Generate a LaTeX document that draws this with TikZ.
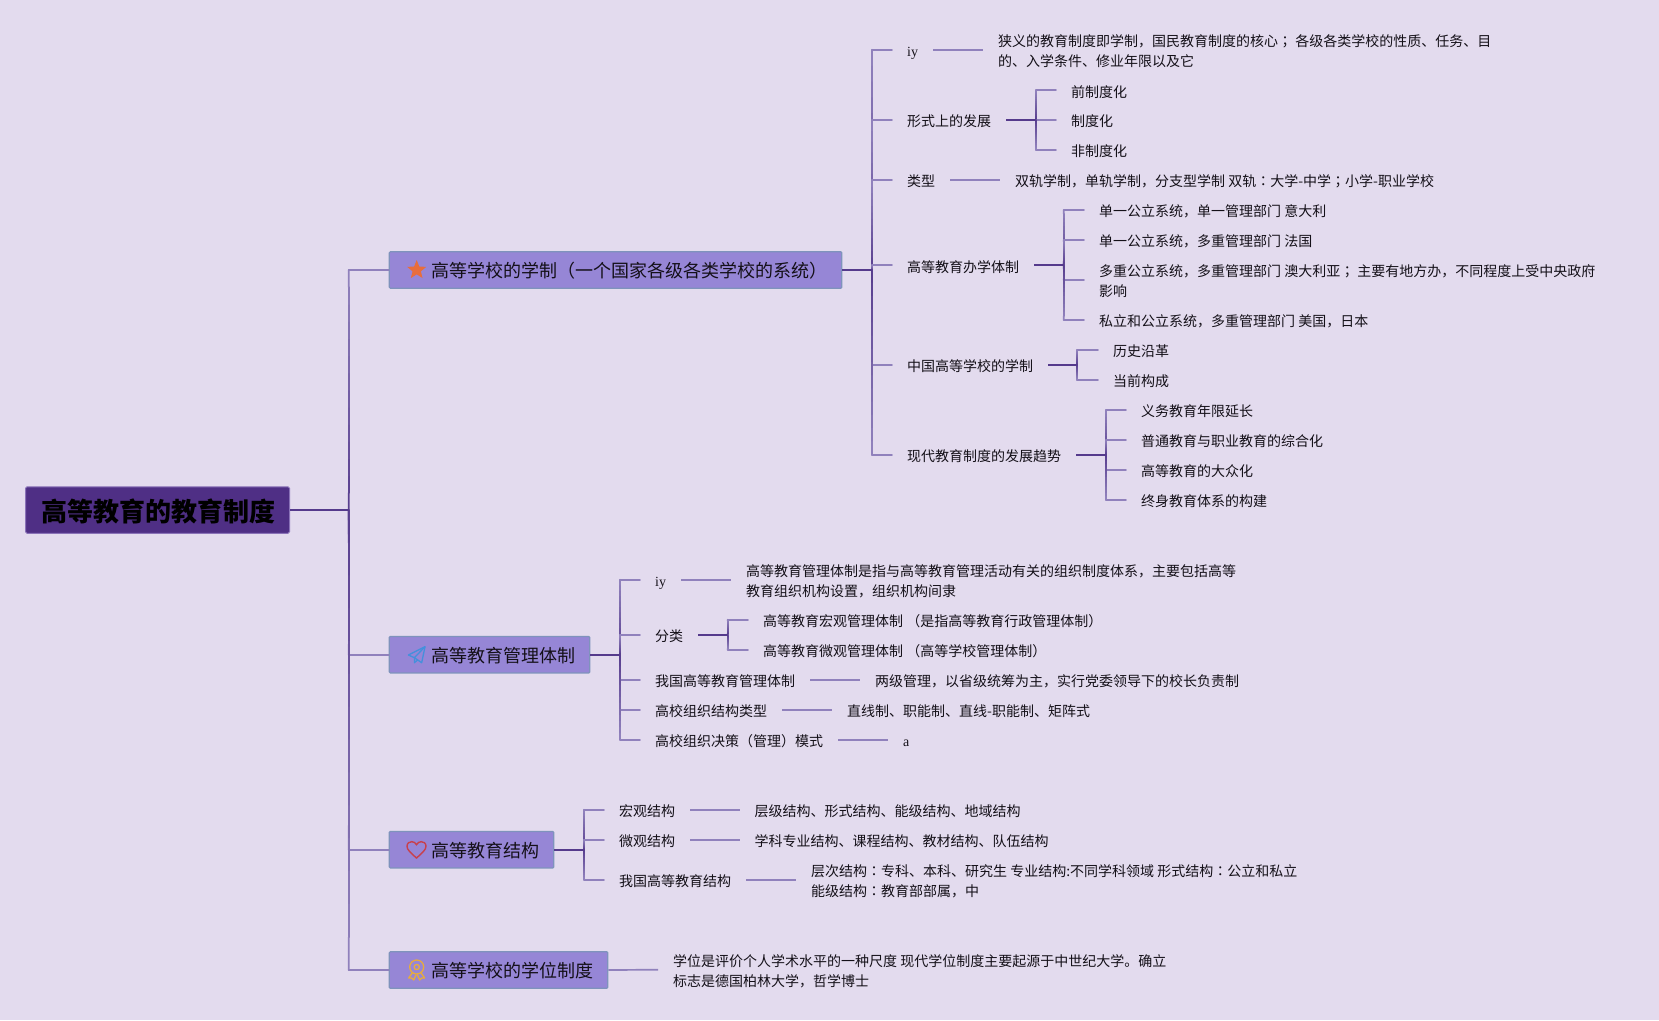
\documentclass[tikz,border=0pt]{standalone}
\usepackage{fontspec}
\setmainfont{Noto Sans CJK SC}
\newfontfamily\serifL{Liberation Serif}
\newfontfamily\tcf{Noto Sans CJK TC}
\newcommand{\semi}{{\tcf ；}}
\newcommand{\colo}{{\tcf ：}}
\usetikzlibrary{calc,shapes.geometric}
\definecolor{bgc}{HTML}{E3DBEE}
\definecolor{rootfill}{HTML}{4F2F85}
\definecolor{rootedge}{HTML}{8A72B8}
\definecolor{boxfill}{HTML}{9686D6}
\definecolor{boxedge}{HTML}{7F93BC}
\definecolor{stemc}{HTML}{553A8C}
\definecolor{litec}{HTML}{9081BC}
\definecolor{txt}{HTML}{141018}
\definecolor{staric}{HTML}{E86D3C}
\definecolor{planeic}{HTML}{4490DC}
\definecolor{heartic}{HTML}{C8404C}
\definecolor{medalic}{HTML}{E8AC3C}
\tikzset{
  rootbox/.style={draw=rootedge,fill=rootfill,line width=1,rounded corners=1.5,anchor=west,inner xsep=0,inner ysep=0,minimum height=46.5,text height=24,text depth=0.2,font=\fontsize{26}{30}\selectfont\bfseries,text=black},
  topicbox/.style={draw=boxedge,fill=boxfill,line width=1.2,rounded corners=1,anchor=west,inner xsep=0,inner ysep=0,minimum height=36.4,text height=16,text depth=0.4,font=\fontsize{18}{22}\selectfont,text=txt},
  item/.style={anchor=west,inner xsep=15,inner ysep=0,text height=14.5,text depth=0.5,font=\fontsize{14}{20}\selectfont,text=txt},
  para/.style={anchor=west,inner xsep=15,inner ysep=0,font=\fontsize{14}{20}\selectfont,text=txt},
  stem/.style={draw=stemc,line width=2.2},
  leafline/.style={draw=litec,line width=1.7},
  branchline/.style={line width=1.7,line cap=round},
}
\newcommand{\elbow}[2]{%
  \path coordinate (cor) at (#1 |- #2.west);
  \foreach \i in {1,...,14}{%
    \pgfmathsetmacro{\pa}{(\i-1)/14}%
    \pgfmathsetmacro{\pb}{\i/14}%
    \pgfmathsetmacro{\pc}{100*\i/14}%
    \draw[branchline,color=litec!\pc!stemc] ($(#1)!\pa!(cor)$) -- ($(#1)!\pb!(cor)$);
  }
  \draw[branchline,color=litec] (cor) -- (#2.west);
}
\newcommand{\twol}[2]{\raisebox{-6.6pt}[20pt][20pt]{\begin{tabular}{@{}l@{}}#1\\#2\end{tabular}}}
\newcommand{\tpc}[2]{\hspace*{42.5pt}#1\rule{#2}{0pt}}
\begin{document}
\begin{tikzpicture}[x=1pt,y=-1pt]
\useasboundingbox (0,0) rectangle (1659,1020);
\fill[bgc] (0,0) rectangle (1659,1020);

% root and topics
\node[rootbox] (root) at (25,510) {\hspace*{16pt}高等教育的教育制度\rule{14pt}{0pt}};
\node[topicbox] (t1) at (388.7,270) {\tpc{高等学校的学制（一个国家各级各类学校的系统）}{14pt}};
\node[topicbox] (t2) at (388.7,654.7) {\tpc{高等教育管理体制}{14pt}};
\node[topicbox] (t3) at (388.7,849.7) {\tpc{高等教育结构}{14pt}};
\node[topicbox] (t4) at (388.7,970) {\tpc{高等学校的学位制度}{14pt}};

% icons
\node[star,star points=5,star point ratio=2.3,fill=staric,draw=none,minimum size=20,inner sep=0] (star1) at (416.7,270) {};
\begin{scope}[shift={(416.7,654.7)},line width=1.3,line join=round,color=planeic]
  \draw (-8.3,0.3) -- (8.3,-8) -- (5,8) -- (-2.3,3) -- cycle;
  \draw (8.3,-8) -- (-2.3,3) -- (-2.3,8) -- (1,5.2);
\end{scope}
\begin{scope}[shift={(416.5,849.7)},line width=1.4,color=heartic]
  \draw (0,8.3) .. controls (-6,3) and (-9.5,0) .. (-9.5,-3.5) .. controls (-9.5,-7) and (-6.5,-8) .. (-4.7,-8) .. controls (-2.7,-8) and (-1,-7) .. (0,-5) .. controls (1,-7) and (2.7,-8) .. (4.7,-8) .. controls (6.5,-8) and (9.5,-7) .. (9.5,-3.5) .. controls (9.5,0) and (6,3) .. cycle;
\end{scope}
\begin{scope}[shift={(416.7,970)},line width=1.3,color=medalic,line join=round]
  \draw (0,-3) circle (7);
  \draw (0,-3) circle (2.6);
  \draw (-4.5,3) -- (-8,8) -- (-5,8) -- (-3,10) -- (-0.5,4.5);
  \draw (4.5,3) -- (8,8) -- (5,8) -- (3,10) -- (0.5,4.5);
\end{scope}

% branch 1
\node[item,font=\fontsize{14}{20}\selectfont\serifL] (a1) at (892,49.7) {iy};
\node[para] (a1d) at (983,49.7) {\twol{狭义的教育制度即学制，国民教育制度的核心\semi{} 各级各类学校的性质、任务、目}{的、入学条件、修业年限以及它}};
\node[item] (a2) at (892,119.9) {形式上的发展};
\node[item] (a21) at (1056,90) {前制度化};
\node[item] (a22) at (1056,119.9) {制度化};
\node[item] (a23) at (1056,149.9) {非制度化};
\node[item] (a3) at (892,179.9) {类型};
\node[item] (a3d) at (1000,179.9) {双轨学制，单轨学制，分支型学制 双轨\colo{}大学-中学\semi{}小学-职业学校};
\node[item] (a4) at (892,265) {高等教育办学体制};
\node[item] (a41) at (1084,209.9) {单一公立系统，单一管理部门 意大利};
\node[item] (a42) at (1084,239.9) {单一公立系统，多重管理部门 法国};
\node[para] (a43) at (1084,279.9) {\twol{多重公立系统，多重管理部门 澳大利亚\semi{} 主要有地方办，不同程度上受中央政府}{影响}};
\node[item] (a44) at (1084,319.9) {私立和公立系统，多重管理部门 美国，日本};
\node[item] (a5) at (892,364.9) {中国高等学校的学制};
\node[item] (a51) at (1098,349.9) {历史沿革};
\node[item] (a52) at (1098,379.9) {当前构成};
\node[item] (a6) at (892,454.9) {现代教育制度的发展趋势};
\node[item] (a61) at (1126,409.9) {义务教育年限延长};
\node[item] (a62) at (1126,439.9) {普通教育与职业教育的综合化};
\node[item] (a63) at (1126,469.9) {高等教育的大众化};
\node[item] (a64) at (1126,499.9) {终身教育体系的构建};

% branch 2
\node[item,font=\fontsize{14}{20}\selectfont\serifL] (b1) at (640,579.7) {iy};
\node[para] (b1d) at (731,579.7) {\twol{高等教育管理体制是指与高等教育管理活动有关的组织制度体系，主要包括高等}{教育组织机构设置，组织机构间隶}};
\node[item] (b2) at (640,634.7) {分类};
\node[item] (b21) at (748,619.7) {高等教育宏观管理体制 （是指高等教育行政管理体制）};
\node[item] (b22) at (748,649.7) {高等教育微观管理体制 （高等学校管理体制）};
\node[item] (b3) at (640,679.7) {我国高等教育管理体制};
\node[item] (b3d) at (860,679.7) {两级管理，以省级统筹为主，实行党委领导下的校长负责制};
\node[item] (b4) at (640,709.7) {高校组织结构类型};
\node[item] (b4d) at (832,709.7) {直线制、职能制、直线-职能制、矩阵式};
\node[item] (b5) at (640,739.7) {高校组织决策（管理）模式};
\node[item,font=\fontsize{14}{20}\selectfont\serifL] (b5d) at (888,739.7) {a};

% branch 3
\node[item] (c1) at (604,809.7) {宏观结构};
\node[item] (c1d) at (739.5,809.7) {层级结构、形式结构、能级结构、地域结构};
\node[item] (c2) at (604,839.7) {微观结构};
\node[item] (c2d) at (739.5,839.7) {学科专业结构、课程结构、教材结构、队伍结构};
\node[item] (c3) at (604,879.7) {我国高等教育结构};
\node[para] (c3d) at (796,879.7) {\twol{层次结构\colo{}专科、本科、研究生 专业结构:不同学科领域 形式结构\colo{}公立和私立}{能级结构\colo{}教育部部属，中}};

% branch 4
\node[para] (d1) at (658,969.7) {\twol{学位是评价个人学术水平的一种尺度 现代学位制度主要起源于中世纪大学。确立}{标志是德国柏林大学，哲学博士}};

% fork points
\coordinate (fr) at (348.7,510);
\coordinate (f1) at (872,270);
\coordinate (fa2) at (1036,119.9);
\coordinate (fa4) at (1063.7,265);
\coordinate (fa5) at (1077,364.9);
\coordinate (fa6) at (1106,454.9);
\coordinate (f2) at (620,654.7);
\coordinate (fb2) at (727.7,634.7);
\coordinate (f3) at (584,849.7);

% connectors
\elbow{fr}{t1}\elbow{fr}{t2}\elbow{fr}{t3}\elbow{fr}{t4}
\draw[stem] (root.east) -- (fr);

\elbow{f1}{a1}\elbow{f1}{a2}\elbow{f1}{a3}\elbow{f1}{a4}\elbow{f1}{a5}\elbow{f1}{a6}
\draw[stem] (t1.east) -- (f1);
\elbow{fa2}{a21}\elbow{fa2}{a22}\elbow{fa2}{a23}
\draw[stem] (a2.east) -- (fa2);
\elbow{fa4}{a41}\elbow{fa4}{a42}\elbow{fa4}{a43}\elbow{fa4}{a44}
\draw[stem] (a4.east) -- (fa4);
\elbow{fa5}{a51}\elbow{fa5}{a52}
\draw[stem] (a5.east) -- (fa5);
\elbow{fa6}{a61}\elbow{fa6}{a62}\elbow{fa6}{a63}\elbow{fa6}{a64}
\draw[stem] (a6.east) -- (fa6);
\draw[leafline] (a1.east) -- (a1d.west);
\draw[leafline] (a3.east) -- (a3d.west);

\elbow{f2}{b1}\elbow{f2}{b2}\elbow{f2}{b3}\elbow{f2}{b4}\elbow{f2}{b5}
\draw[stem] (t2.east) -- (f2);
\elbow{fb2}{b21}\elbow{fb2}{b22}
\draw[stem] (b2.east) -- (fb2);
\draw[leafline] (b1.east) -- (b1d.west);
\draw[leafline] (b3.east) -- (b3d.west);
\draw[leafline] (b4.east) -- (b4d.west);
\draw[leafline] (b5.east) -- (b5d.west);

\elbow{f3}{c1}\elbow{f3}{c2}\elbow{f3}{c3}
\draw[stem] (t3.east) -- (f3);
\draw[leafline] (c1.east) -- (c1d.west);
\draw[leafline] (c2.east) -- (c2d.west);
\draw[leafline] (c3.east) -- (c3d.west);

\draw[leafline] (t4.east) -- (d1.west);
\end{tikzpicture}
\end{document}
